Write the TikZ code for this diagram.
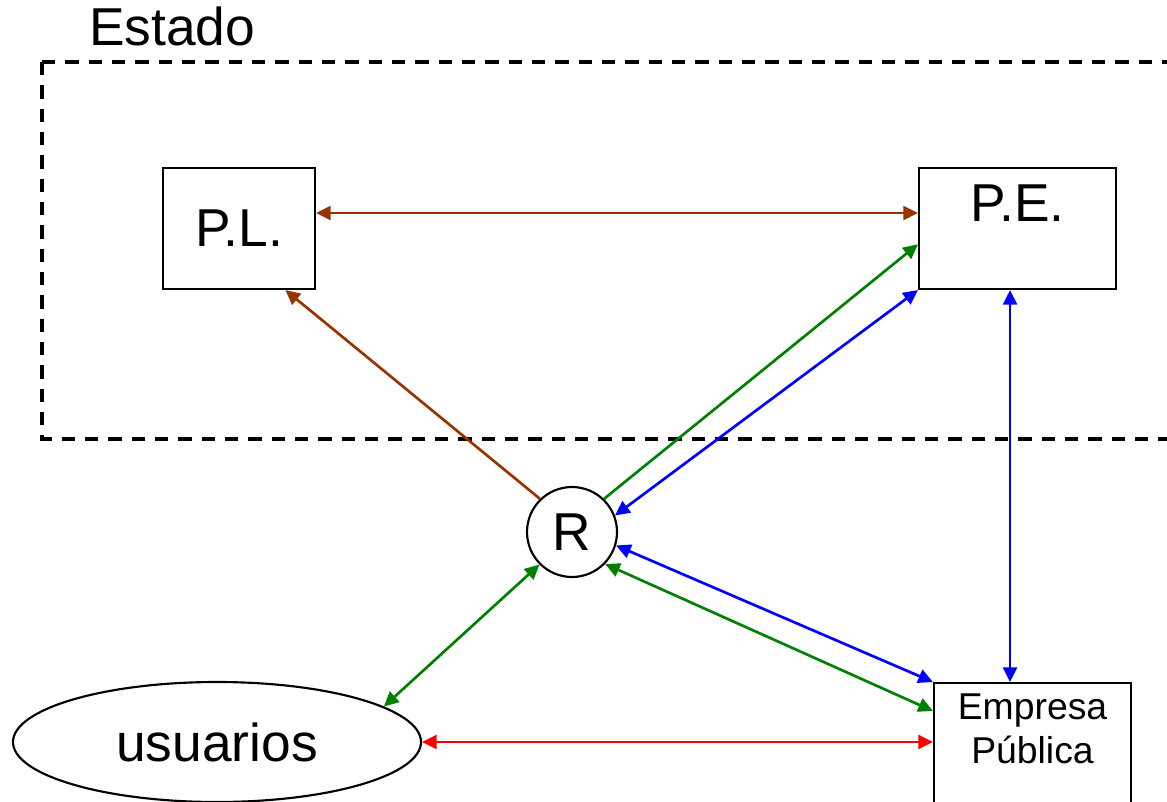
\documentclass[tikz,border=0pt]{standalone}
\usepackage{fontspec}
\setmainfont{Liberation Sans}
\usetikzlibrary{shapes.geometric,arrows.meta}

\definecolor{marron}{HTML}{993300}
\definecolor{verde}{HTML}{008000}
\definecolor{azul}{HTML}{0000FF}
\definecolor{rojo}{HTML}{FF0000}

\tikzset{
    caja/.style={draw, line width=1.6pt, fill=white, inner sep=0pt},
    flecha/.style={line width=2pt},
    >={Triangle[length=11pt,width=10.5pt]}
}

\begin{document}
\begin{tikzpicture}[x=0.75pt,y=-0.75pt,font=\fontsize{40}{44}\selectfont]

    \clip (0,0) rectangle (1167,802);

    % estado
    \draw[line width=2.4pt, dash pattern=on 10pt off 7.5pt] (42,62) rectangle (1200,439);
    \node[anchor=base west, inner sep=0pt] (estado) at (89,46) {Estado};

    % poderes
    \node[caja, minimum width=114pt, minimum height=90.75pt] (pl) at (239,228.5) {P.L.};
    \node[caja, minimum width=147.75pt, minimum height=90.75pt,
          label={[anchor=north, yshift=-10pt]north:P.E.}] (pe) at (1017.5,228.5) {};

    % regulador
    \node[caja, circle, minimum size=67.5pt] (r) at (572,532) {R};

    % usuarios y empresa
    \node[caja, ellipse, minimum width=306pt, minimum height=90pt] (usuarios) at (217,742) {usuarios};
    \node[caja, anchor=north, minimum width=147.75pt, minimum height=115pt,
          label={[anchor=north, yshift=-5pt, align=center, font=\fontsize{28}{33}\selectfont]north:Empresa\\Pública}]
          (empresa) at (1032.5,682) {};

    % flechas
    \draw[flecha, marron, <->] ([yshift=11.6pt]pl.east) -- ([yshift=11.6pt]pe.west);
    \draw[flecha, marron, ->] (r.134) -- (pl.-53);
    \draw[flecha, verde, ->] (r.46) -- (pe.189);
    \draw[flecha, azul, <->] (pe.south west) -- (r.21);
    \draw[flecha, azul, <->] ([xshift=-5.6pt]pe.south) -- ([xshift=-5.6pt]pe.south |- empresa.north);
    \draw[flecha, azul, <->] (r.-17) -- (empresa.north west);
    \draw[flecha, verde, <->] (r.-44) -- ([yshift=-21.75pt]empresa.north west);
    \draw[flecha, verde, <->] (usuarios.12) -- (r.-135);
    \draw[flecha, rojo, <->] (usuarios.east) -- (empresa.west |- usuarios.east);

\end{tikzpicture}
\end{document}
